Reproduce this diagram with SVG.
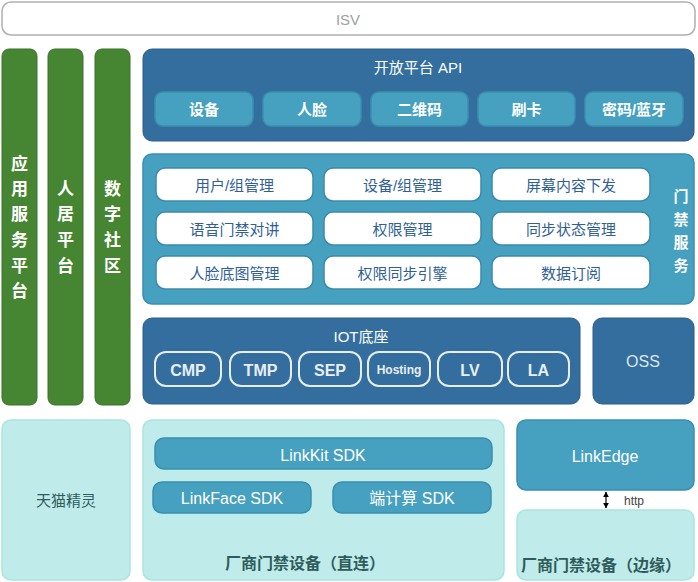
<svg xmlns="http://www.w3.org/2000/svg" width="698" height="582" viewBox="0 0 698 582">
<style>
text{font-family:"Liberation Sans","Noto Sans CJK SC",sans-serif;text-anchor:middle;dominant-baseline:central}
.g{fill:#468532;stroke:#3b7229;stroke-width:1}
.gt{fill:#fff;font-size:17px;font-weight:bold}
.dk{fill:#336e9e;stroke:#2a5f88;stroke-width:1}
.md{fill:#46a0c0;stroke:#3a8fb0;stroke-width:1.5}
.wt{fill:#fff;font-size:15px}
.ws{fill:#fff;font-size:16px}
.wb{fill:#fff;stroke:#3d8aa8;stroke-width:1.5}
.bt{fill:#2f5f95;font-size:15px}
.pill{fill:none;stroke:#e8eef4;stroke-width:2}
.pt{fill:#e8eef4;font-size:16px;font-weight:bold}
.lt{fill:#bfecea;stroke:#a9e5df;stroke-width:1.5}
.tt{fill:#2f5b5c;font-size:16px;font-weight:bold}
</style>
<defs>
<marker id="ah" viewBox="0 0 10 10" refX="9" refY="5" markerWidth="5" markerHeight="5" orient="auto-start-reverse"><path d="M0,0L10,5L0,10z" fill="#000"/></marker>
</defs>
<g id="isv"><rect x="2" y="2" width="693" height="33" rx="9" fill="#fff" stroke="#b0b0b0" stroke-width="1.5"/><text x="348" y="19" fill="#a0a0a0" font-size="15">ISV</text></g>
<g id="app"><rect class="g" x="2" y="49" width="35" height="356" rx="7"/><text class="gt" x="19.5" y="164">应</text><text class="gt" x="19.5" y="189">用</text><text class="gt" x="19.5" y="214">服</text><text class="gt" x="19.5" y="240">务</text><text class="gt" x="19.5" y="266">平</text><text class="gt" x="19.5" y="291">台</text></g>
<g id="home"><rect class="g" x="48" y="49" width="35" height="356" rx="7"/><text class="gt" x="65.5" y="189">人</text><text class="gt" x="65.5" y="214">居</text><text class="gt" x="65.5" y="240">平</text><text class="gt" x="65.5" y="266">台</text></g>
<g id="community"><rect class="g" x="95" y="49" width="35" height="356" rx="7"/><text class="gt" x="112.5" y="189">数</text><text class="gt" x="112.5" y="214">字</text><text class="gt" x="112.5" y="240">社</text><text class="gt" x="112.5" y="266">区</text></g>
<g id="openapi"><rect class="dk" x="143" y="49" width="551" height="92" rx="9"/><text class="wt" x="418" y="67">开放平台 API</text>
<rect class="md" x="155" y="92" width="98" height="34" rx="8"/><text class="wt" x="204" y="109" font-weight="bold">设备</text>
<rect class="md" x="263" y="92" width="98" height="34" rx="8"/><text class="wt" x="312" y="109" font-weight="bold">人脸</text>
<rect class="md" x="371" y="92" width="97" height="34" rx="8"/><text class="wt" x="419.5" y="109" font-weight="bold">二维码</text>
<rect class="md" x="478" y="92" width="97" height="34" rx="8"/><text class="wt" x="526.5" y="109" font-weight="bold">刷卡</text>
<rect class="md" x="585" y="92" width="98" height="34" rx="8"/><text class="wt" x="634" y="109" font-weight="bold">密码/蓝牙</text></g>
<g id="access"><rect class="md" x="143" y="154" width="551" height="150" rx="9"/>
<rect class="wb" x="156" y="168" width="157" height="33" rx="9"/><text class="bt" x="234.5" y="185">用户/组管理</text>
<rect class="wb" x="324" y="168" width="157" height="33" rx="9"/><text class="bt" x="402.5" y="185">设备/组管理</text>
<rect class="wb" x="492" y="168" width="158" height="33" rx="9"/><text class="bt" x="571" y="185">屏幕内容下发</text>
<rect class="wb" x="156" y="212" width="157" height="33" rx="9"/><text class="bt" x="234.5" y="229">语音门禁对讲</text>
<rect class="wb" x="324" y="212" width="157" height="33" rx="9"/><text class="bt" x="402.5" y="229">权限管理</text>
<rect class="wb" x="492" y="212" width="158" height="33" rx="9"/><text class="bt" x="571" y="229">同步状态管理</text>
<rect class="wb" x="156" y="256" width="157" height="33" rx="9"/><text class="bt" x="234.5" y="273">人脸底图管理</text>
<rect class="wb" x="324" y="256" width="157" height="33" rx="9"/><text class="bt" x="402.5" y="273">权限同步引擎</text>
<rect class="wb" x="492" y="256" width="158" height="33" rx="9"/><text class="bt" x="571" y="273">数据订阅</text>
<text class="wt" x="681" y="196" font-weight="bold">门</text><text class="wt" x="681" y="219" font-weight="bold">禁</text><text class="wt" x="681" y="242" font-weight="bold">服</text><text class="wt" x="681" y="265" font-weight="bold">务</text></g>
<g id="iot"><rect class="dk" x="143" y="318" width="437" height="86" rx="9"/><text class="wt" x="361" y="336">IOT底座</text>
<rect class="pill" x="155" y="352" width="66" height="34" rx="11"/><text class="pt" x="188" y="370">CMP</text>
<rect class="pill" x="230" y="352" width="61" height="34" rx="11"/><text class="pt" x="260.5" y="370">TMP</text>
<rect class="pill" x="299" y="352" width="62" height="34" rx="11"/><text class="pt" x="330" y="370">SEP</text>
<rect class="pill" x="368" y="352" width="62" height="34" rx="11"/><text class="pt" x="399" y="370" style="font-size:12px">Hosting</text>
<rect class="pill" x="438" y="352" width="64" height="34" rx="11"/><text class="pt" x="470" y="370">LV</text>
<rect class="pill" x="508" y="352" width="61" height="34" rx="11"/><text class="pt" x="538.5" y="370">LA</text></g>
<g id="oss"><rect class="dk" x="593" y="318" width="101" height="86" rx="9"/><text x="643" y="361" fill="#dde6ee" font-size="16">OSS</text></g>
<g id="tmall"><rect class="lt" x="2" y="420" width="128" height="160" rx="9"/><text x="66" y="500" fill="#2f5b5c" font-size="15">天猫精灵</text></g>
<g id="direct"><rect class="lt" x="143" y="420" width="361" height="160" rx="9"/>
<rect class="md" x="155" y="438" width="337" height="31" rx="9"/><text class="ws" x="323" y="455">LinkKit SDK</text>
<rect class="md" x="153" y="482" width="158" height="31" rx="9"/><text class="ws" x="232" y="498">LinkFace SDK</text>
<rect class="md" x="333" y="482" width="158" height="31" rx="9"/><text class="ws" x="412" y="498">端计算 SDK</text>
<text class="tt" x="305" y="563">厂商门禁设备（直连）</text></g>
<g id="linkedge"><rect class="md" x="517" y="420" width="177" height="70" rx="9"/><text class="ws" x="605" y="456">LinkEdge</text></g>
<g id="edge"><rect class="lt" x="517" y="510" width="177" height="70" rx="9"/><text class="tt" x="601" y="565">厂商门禁设备（边缘）</text></g>
<g id="connectors"><line x1="606" y1="492" x2="606" y2="508" stroke="#000" stroke-width="1.2" marker-start="url(#ah)" marker-end="url(#ah)"/><text x="634" y="501" fill="#444" font-size="12">http</text></g>
</svg>
